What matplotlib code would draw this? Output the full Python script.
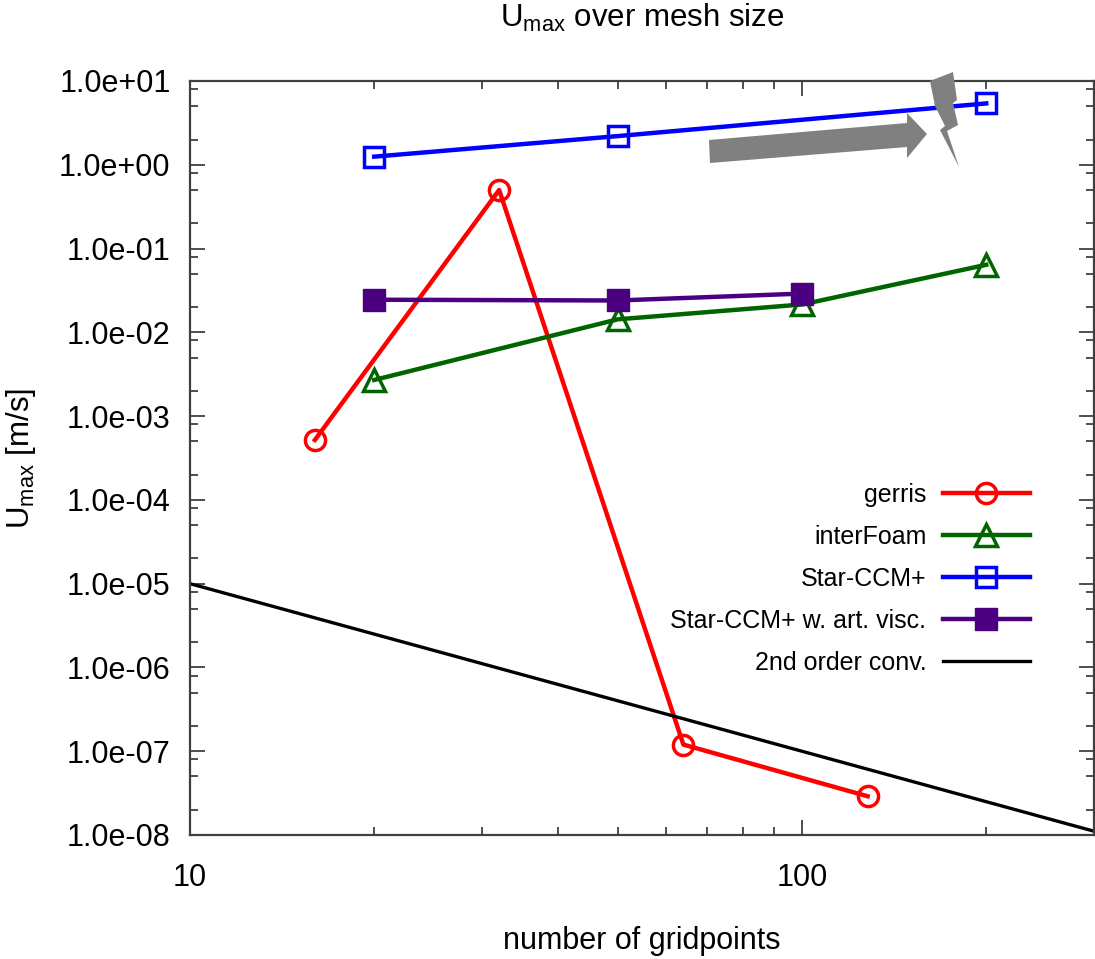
import matplotlib
matplotlib.use("Agg")
import matplotlib.pyplot as plt
from matplotlib.patches import Polygon
from matplotlib.ticker import LogLocator, NullFormatter, FixedLocator, FixedFormatter

plt.rcParams["font.family"] = ["Liberation Sans", "DejaVu Sans"]

# data
gerris_x = [16, 32, 64, 128]
gerris_y = [5.2e-4, 0.5, 1.2e-7, 2.9e-8]

interfoam_x = [20, 50, 100, 200]
interfoam_y = [2.7e-3, 1.43e-2, 2.15e-2, 6.4e-2]

star_x = [20, 50, 200]
star_y = [1.25, 2.2, 5.4]

star_visc_x = [20, 50, 100]
star_visc_y = [2.45e-2, 2.4e-2, 2.9e-2]

conv_x = [10, 300]
conv_y = [1.0e-5, 1.11e-8]

y_ticks = [1e1, 1e0, 1e-1, 1e-2, 1e-3, 1e-4, 1e-5, 1e-6, 1e-7, 1e-8]
y_ticklabels = ["1.0e+01", "1.0e+00", "1.0e-01", "1.0e-02", "1.0e-03",
                "1.0e-04", "1.0e-05", "1.0e-06", "1.0e-07", "1.0e-08"]
x_ticks = [10, 100]
x_ticklabels = ["10", "100"]

W, H = 1095, 959
fig = plt.figure(figsize=(W / 100, H / 100), dpi=100)
ax = fig.add_axes([190 / W, 1 - 835 / H, 904 / W, 754 / H])
ax.set_xscale("log")
ax.set_yscale("log")
ax.set_xlim(10, 300)
ax.set_ylim(1e-8, 1e1)

lw = 3.2
ax.plot(gerris_x, gerris_y, color="#ff0000", lw=lw, marker="o", ms=14.5,
        mfc="none", mew=2.5, label="gerris")
ax.plot(interfoam_x, interfoam_y, color="#006400", lw=lw, marker="^", ms=15.5,
        mfc="none", mew=2.5, label="interFoam")
ax.plot(star_x, star_y, color="#0000ff", lw=lw, marker="s", ms=14,
        mfc="none", mew=2.5, label="Star-CCM+")
ax.plot(star_visc_x, star_visc_y, color="#4b0082", lw=lw, marker="s", ms=16,
        mfc="#4b0082", mew=1, label="Star-CCM+ w. art. visc.")
ax.plot(conv_x, conv_y, color="black", lw=2.4, label="2nd order conv.")

# axis styling, gnuplot-like inward ticks on all sides
for s in ax.spines.values():
    s.set_color("#404040")
    s.set_linewidth(1.6)
ax.yaxis.set_major_locator(FixedLocator(y_ticks))
ax.yaxis.set_major_formatter(FixedFormatter(y_ticklabels))
ax.yaxis.set_minor_locator(LogLocator(base=10, subs=(2, 5, 8), numticks=30))
ax.yaxis.set_minor_formatter(NullFormatter())
ax.xaxis.set_major_locator(FixedLocator(x_ticks))
ax.xaxis.set_major_formatter(FixedFormatter(x_ticklabels))
ax.xaxis.set_minor_locator(LogLocator(base=10, subs=range(2, 10), numticks=30))
ax.xaxis.set_minor_formatter(NullFormatter())
ax.tick_params(which="both", direction="in", top=True, right=True,
               color="#404040", width=1.3)
ax.tick_params(which="major", length=11)
ax.tick_params(which="minor", length=6)
ax.tick_params(axis="y", which="major", labelsize=22, pad=14)
ax.tick_params(axis="x", which="major", labelsize=22, pad=20)

ax.set_xlabel("number of gridpoints", fontsize=22, labelpad=24)
ax.set_ylabel(r"$\mathregular{U_{max}}$ [m/s]", fontsize=22.5, labelpad=15)
ax.set_title(r"$\mathregular{U_{max}}$ over mesh size", fontsize=22.5, pad=39)

leg = ax.legend(loc="upper right", bbox_to_anchor=((1030 - 190) / 904, (835 - 483) / 754),
                frameon=False, markerfirst=False, handlelength=3.5,
                handletextpad=0.64, labelspacing=0.72, borderpad=0, borderaxespad=0,
                prop={"size": 18})
for col in leg._legend_handle_box.get_children():
    col.align = "right"


def px(points):
    return [(x / W, 1 - y / H) for x, y in points]


# grey arrow and lightning bolt annotations
arrow = [(709, 140), (907, 123), (907, 113), (927, 134), (907, 158), (907, 147), (710, 163)]
bolt = [(930, 81), (953, 72), (957, 100), (953, 103), (958, 125), (947, 131),
        (959, 167), (940, 130), (945, 126), (935, 106)]
for shape in (arrow, bolt):
    fig.patches.append(Polygon(px(shape), closed=True, facecolor="#808080",
                               edgecolor="none", transform=fig.transFigure, zorder=5))

fig.savefig("out.png", dpi=100)
